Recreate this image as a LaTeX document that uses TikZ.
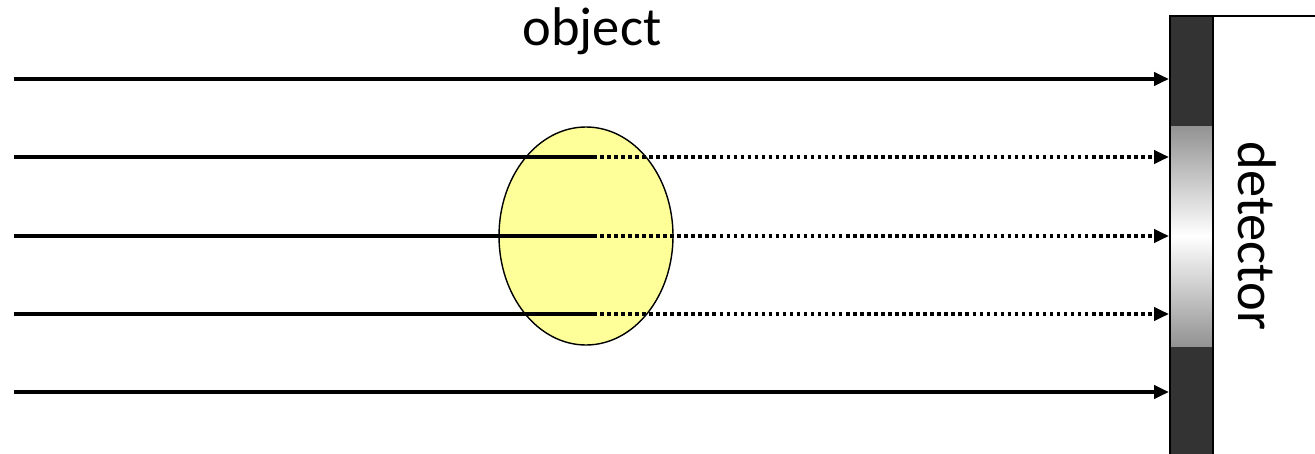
\documentclass[tikz,border=0pt]{standalone}
\usepackage{fontspec}
\setmainfont{Carlito}
\usetikzlibrary{arrows.meta}

\definecolor{objfill}{HTML}{FFFF99}
\definecolor{detdark}{HTML}{333333}

\tikzset{
  ray/.style={line width=2.2pt},
  rayhead/.style={ray, -{Triangle[length=8.5pt,width=7.4pt]}},
  dotray/.style={rayhead, dash pattern=on 2pt off 2pt},
  bigtext/.style={font=\fontsize{31}{36}\selectfont}
}

\begin{document}
\begin{tikzpicture}[x=0.02cm, y=-0.02cm]
\useasboundingbox (0,0) rectangle (1315,453);

% Detector
\fill[detdark] (1170,16) rectangle (1213,460);
\shade[top color=gray!85, bottom color=gray!85, middle color=white] (1170,126) rectangle (1213,346);
\draw[line width=1pt] (1170,460) -- (1170,16) -- (1315,16);
\draw[line width=1pt] (1213,16) -- (1213,460);
\node[bigtext, rotate=-90] (detlabel) at (1257,236) {detector};

% Object
\draw[fill=objfill, line width=0.8pt] (586,236) ellipse (87 and 109);
\node[bigtext] (objlabel) at (592,31) {object};

% Rays passing by the object
\foreach \i/\y in {1/79, 5/392} {
  \coordinate (src\i) at (14,\y);
  \coordinate (hit\i) at (1169,\y);
  \draw[rayhead] (src\i) -- (hit\i);
}

% Rays through the object
\foreach \i/\y in {2/157, 3/236, 4/314} {
  \coordinate (src\i) at (14,\y);
  \coordinate (mid\i) at (593,\y);
  \coordinate (hit\i) at (1169,\y);
  \draw[ray] (src\i) -- (mid\i);
  \draw[dotray] (mid\i) -- (hit\i);
}

\end{tikzpicture}
\end{document}
